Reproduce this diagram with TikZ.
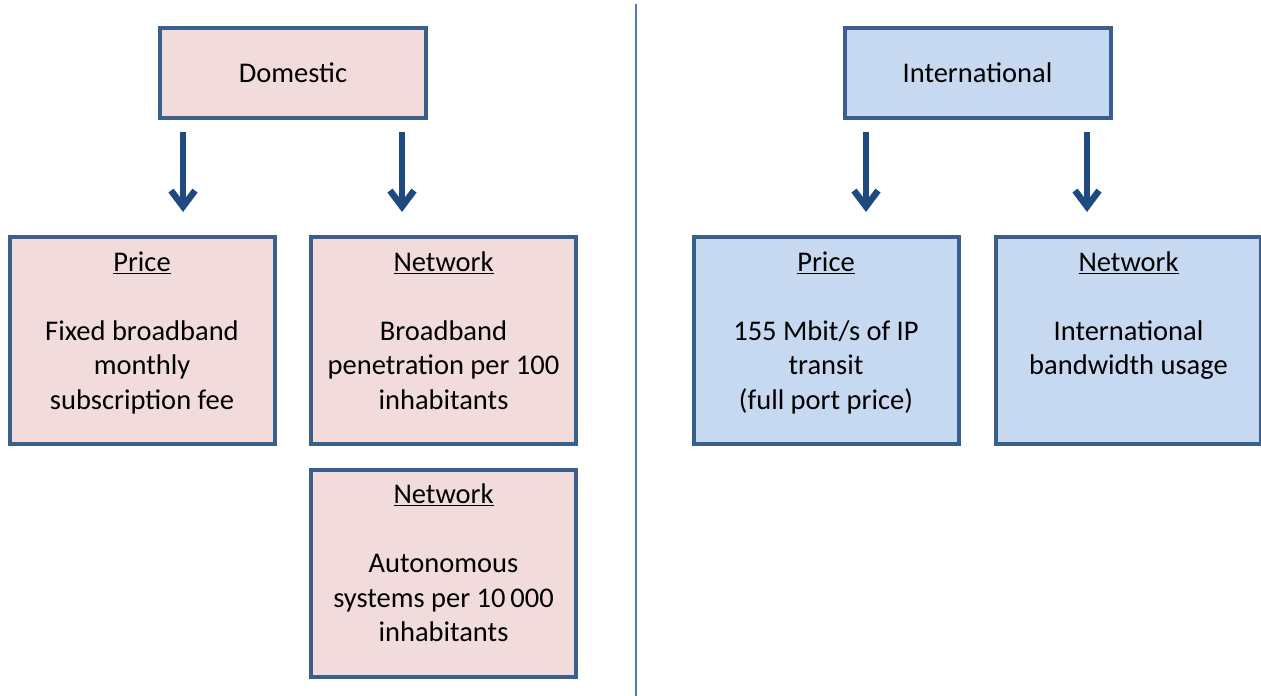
\documentclass[tikz,border=0pt]{standalone}
\usepackage{fontspec}
\setmainfont{Carlito}
\usetikzlibrary{arrows.meta}
\definecolor{boxborder}{HTML}{3A5F8C}
\definecolor{pinkfill}{HTML}{F2DCDB}
\definecolor{bluefill}{HTML}{C6D9F1}
\definecolor{arrowblue}{HTML}{1F4A80}
\definecolor{divider}{HTML}{4A7EBB}
\tikzset{
  box/.style={draw=boxborder, line width=4pt, fill=#1, rectangle, inner sep=0pt},
  titlebox/.style={box=#1, minimum width=266pt, minimum height=90pt, font=\fontsize{28.5}{34.5}\selectfont},
  itembox/.style={box=#1, minimum width=265pt, minimum height=207pt},
  itemtext/.style={anchor=north, align=center, inner sep=0pt, font=\fontsize{28.5}{34.5}\selectfont},
  downarrow/.style={draw=arrowblue, line width=6.5pt, -{Straight Barb[length=16pt,width=24pt]}},
  divline/.style={draw=divider, line width=2.5pt}
}
\begin{document}
\begin{tikzpicture}[x=1pt,y=-1pt]
\useasboundingbox (0,0) rectangle (1261,696);
% divider
\coordinate (dtop) at (636,4);
\coordinate (dbot) at (636,696);
\draw[divline] (dtop) -- (dbot);
% title boxes
\node[titlebox=pinkfill] (dom) at (293,73) {Domestic};
\node[titlebox=bluefill] (intl) at (977.5,73) {International};
% item boxes
\node[itembox=pinkfill] (dprice) at (142,340.5) {};
\node[itembox=pinkfill] (dnet) at (443.5,340.5) {};
\node[itembox=pinkfill] (dnet2) at (443.5,573) {};
\node[itembox=bluefill] (iprice) at (826,340.5) {};
\node[itembox=bluefill] (inet) at (1128.5,340.5) {};
% texts
\node[itemtext] (tdprice) at ([yshift=-16.5pt]dprice.north) {\underline{Price}\\ \\ Fixed broadband\\ monthly\\ subscription fee};
\node[itemtext] (tdnet) at ([yshift=-16.5pt]dnet.north) {\underline{Network}\\ \\ Broadband\\ penetration per 100\\ inhabitants};
\node[itemtext] (tdnet2) at ([yshift=-16.5pt]dnet2.north) {\underline{Network}\\ \\ Autonomous\\ systems per 10\,000\\ inhabitants};
\node[itemtext] (tiprice) at ([yshift=-16.5pt]iprice.north) {\underline{Price}\\ \\ 155 Mbit/s of IP\\ transit\\ (full port price)};
\node[itemtext] (tinet) at ([yshift=-16.5pt]inet.north) {\underline{Network}\\ \\ International\\ bandwidth usage};
% arrows
\coordinate (a1s) at (183,132); \coordinate (a1e) at (183,212);
\coordinate (a2s) at (402,132); \coordinate (a2e) at (402,212);
\coordinate (a3s) at (866,132); \coordinate (a3e) at (866,212);
\coordinate (a4s) at (1087,132); \coordinate (a4e) at (1087,212);
\draw[downarrow] (a1s) -- (a1e);
\draw[downarrow] (a2s) -- (a2e);
\draw[downarrow] (a3s) -- (a3e);
\draw[downarrow] (a4s) -- (a4e);
\end{tikzpicture}
\end{document}
